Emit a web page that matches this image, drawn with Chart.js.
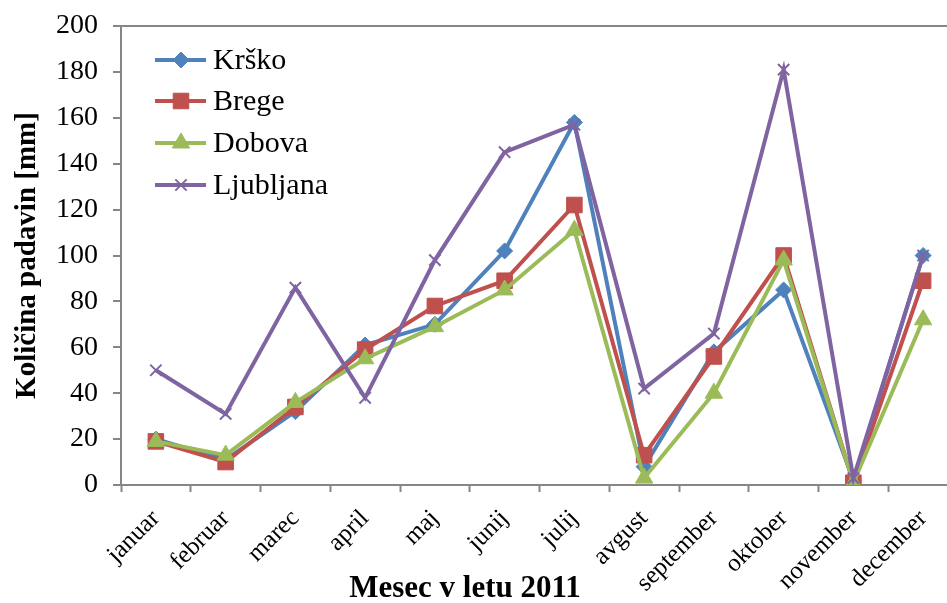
<!DOCTYPE html>
<html>
<head>
<meta charset="utf-8">
<script src="https://cdn.jsdelivr.net/npm/chart.js@4.4.1/dist/chart.umd.min.js"></script>
<style>
  html, body { margin: 0; padding: 0; background: #fff; overflow: hidden; width: 947px; height: 603px; }
  #wrap { width: 958px; height: 603px; }
</style>
</head>
<body>
<div id="wrap"><canvas id="rainChart"></canvas></div>
<script>
const months = ['januar', 'februar', 'marec', 'april', 'maj', 'junij', 'julij',
  'avgust', 'september', 'oktober', 'november', 'december'];
const krsko = [20, 11, 32, 61, 70, 102, 158, 8, 58, 85, 2, 100];
const brege = [19, 10, 34, 59, 78, 89, 122, 13, 56, 100, 1, 89];
const dobova = [19, 13, 36, 55, 69, 85, 111, 3, 40, 98, 1, 72];
const ljubljana = [50, 31, 86, 38, 98, 145, 157, 42, 66, 181, 3, 100];
const yTicks = [0, 20, 40, 60, 80, 100, 120, 140, 160, 180, 200];

const axisGrey = '#868686';
const serif = "'Liberation Serif', 'Times New Roman', serif";
Chart.defaults.font.family = serif;
Chart.defaults.color = '#000';

function series(label, data, color, style, radius, pbw, order) {
  return {
    label: label,
    data: data,
    borderColor: color,
    backgroundColor: color,
    borderWidth: 4,
    pointStyle: style,
    pointRadius: radius,
    pointHoverRadius: radius,
    pointBorderWidth: pbw,
    pointBorderColor: color,
    pointBackgroundColor: color,
    tension: 0,
    order: order
  };
}

// legend inside the plot (top-left) and x axis title
const insideLegend = {
  id: 'insideLegend',
  afterDatasetsDraw(chart) {
    const ctx = chart.ctx;
    const rows = [60, 101, 143, 185];
    ctx.save();
    chart.data.datasets.forEach((ds, k) => {
      const y = rows[k];
      ctx.strokeStyle = ds.borderColor;
      ctx.fillStyle = ds.borderColor;
      ctx.lineWidth = 4;
      ctx.beginPath();
      ctx.moveTo(155, y);
      ctx.lineTo(206, y);
      ctx.stroke();
      ctx.lineWidth = ds.pointBorderWidth;
      Chart.helpers.drawPoint(ctx, {
        pointStyle: ds.pointStyle, radius: ds.pointRadius,
        borderWidth: ds.pointBorderWidth, rotation: 0
      }, 181, y);
      ctx.fillStyle = '#000';
      ctx.font = '30px ' + serif;
      ctx.textBaseline = 'middle';
      ctx.textAlign = 'left';
      ctx.fillText(ds.label, 213, y + 1);
    });
    ctx.font = 'bold 31px ' + serif;
    ctx.textAlign = 'center';
    ctx.textBaseline = 'alphabetic';
    ctx.fillStyle = '#000';
    ctx.fillText('Mesec v letu 2011', 465, 597);
    ctx.restore();
  }
};

const chart = new Chart(document.getElementById('rainChart'), {
  type: 'line',
  data: {
    labels: months,
    datasets: [
      series('Krško', krsko, '#4F81BD', 'rectRot', 8, 1, 3),
      series('Brege', brege, '#C0504D', 'rect', 11, 1, 2),
      series('Dobova', dobova, '#9BBB59', 'triangle', 10, 1, 1),
      series('Ljubljana', ljubljana, '#8064A2', 'crossRot', 8, 2, 0)
    ]
  },
  options: {
    responsive: true,
    maintainAspectRatio: false,
    animation: false,
    layout: { autoPadding: false, padding: { top: 26, left: 0, right: 0, bottom: 0 } },
    plugins: {
      legend: { display: false },
      tooltip: { enabled: false }
    },
    scales: {
      x: {
        offset: true,
        afterFit: (scale) => {
          scale.height = 118;
          scale.paddingRight = 0;
          scale.paddingLeft = 0;
        },
        grid: {
          offset: true,
          drawOnChartArea: false,
          drawTicks: true,
          tickLength: 7,
          tickColor: axisGrey,
          tickWidth: 2
        },
        border: { color: axisGrey, width: 2 },
        ticks: {
          autoSkip: false,
          minRotation: 45,
          maxRotation: 45,
          padding: 12,
          color: '#000',
          font: { size: 25, family: serif }
        }
      },
      y: {
        min: 0,
        max: 200,
        afterFit: (scale) => {
          scale.width = 121;
          scale.paddingTop = 0;
          scale.paddingBottom = 0;
        },
        afterBuildTicks: (scale) => { scale.ticks = yTicks.map(v => ({ value: v })); },
        grid: {
          drawOnChartArea: true,
          color: (c) => (c.tick && c.tick.value === 200 ? axisGrey : 'rgba(0,0,0,0)'),
          lineWidth: 2,
          tickLength: 8,
          tickColor: axisGrey,
          tickWidth: 2
        },
        border: { color: axisGrey, width: 2 },
        ticks: {
          padding: 15,
          color: '#000',
          font: { size: 28, family: serif }
        },
        title: {
          display: true,
          text: 'Količina padavin [mm]',
          color: '#000',
          font: { size: 29, weight: 'bold', family: serif },
          padding: { top: 10, bottom: 0 }
        }
      }
    }
  },
  plugins: [insideLegend]
});
</script>
</body>
</html>
